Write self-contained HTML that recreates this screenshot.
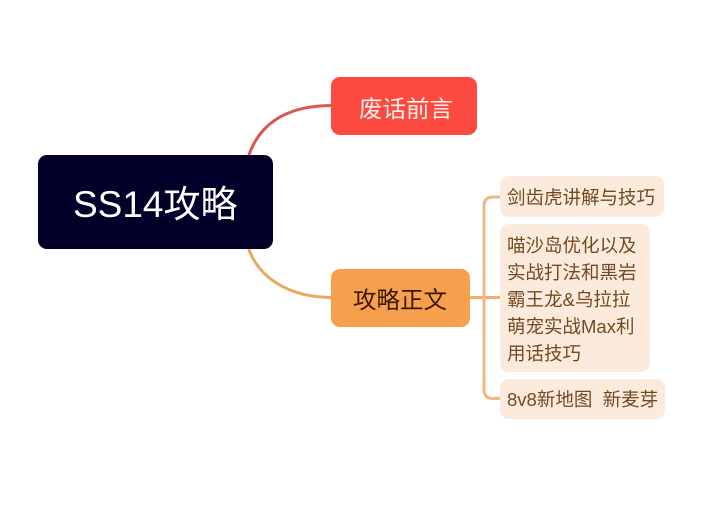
<!DOCTYPE html>
<html>
<head>
<meta charset="utf-8">
<style>
html,body{margin:0;padding:0;background:#fff;}
#c{position:relative;width:720px;height:510px;overflow:hidden;background:#fff;font-family:"Liberation Sans","Noto Sans CJK SC",sans-serif;filter:blur(0.35px);}
.n{position:absolute;box-sizing:border-box;}
.t{position:absolute;white-space:pre;line-height:1;}
.s{font-size:18.5px;color:#734a20;left:507px;}
svg{position:absolute;left:0;top:0;}
</style>
</head>
<body>
<div id="c">
<svg width="720" height="510" fill="none">
<path d="M248 158C258 125 285 105.500 332 105.500" stroke="#dc5750" stroke-width="3"/>
<path d="M248 247C258 277 288 297.500 332 297.500" stroke="#e9a863" stroke-width="3"/>
<path d="M469 297.500H500" stroke="#efb06c" stroke-width="3"/>
<path d="M500 197H493Q484 197 484 206V389Q484 398.500 493 398.500H500" stroke="#efb783" stroke-width="3"/>
</svg>
<div class="n" style="left:38px;top:155px;width:235px;height:94px;background:#020029;border-radius:9px;"></div>
<div class="t" style="left:73px;top:186px;font-size:37px;color:#fff;">SS14攻略</div>
<div class="n" style="left:331px;top:77px;width:146px;height:58px;background:#fc4a40;border-radius:9px;"></div>
<div class="t" style="left:359px;top:98px;font-size:23.5px;color:#fdf0ec;">废话前言</div>
<div class="n" style="left:331px;top:269px;width:139px;height:58px;background:#f6a04d;border-radius:9px;"></div>
<div class="t" style="left:353px;top:289px;font-size:23.500px;color:#3a1500;">攻略正文</div>
<div class="n" style="left:500px;top:176px;width:164px;height:41px;background:#fcebdd;border-radius:9px;"></div>
<div class="t s" style="top:189px;">剑齿虎讲解与技巧</div>
<div class="n" style="left:500px;top:224px;width:150px;height:148px;background:#fcebdd;border-radius:9px;"></div>
<div class="t s" style="top:237px;">喵沙岛优化以及</div>
<div class="t s" style="top:264px;">实战打法和黑岩</div>
<div class="t s" style="top:291px;">霸王龙&amp;乌拉拉</div>
<div class="t s" style="top:318px;">萌宠实战Max利</div>
<div class="t s" style="top:345px;">用话技巧</div>
<div class="n" style="left:500px;top:379px;width:165px;height:40px;background:#fcebdd;border-radius:9px;"></div>
<div class="t s" style="top:391px;">8v8新地图  新麦芽</div>
</div>
</body>
</html>
